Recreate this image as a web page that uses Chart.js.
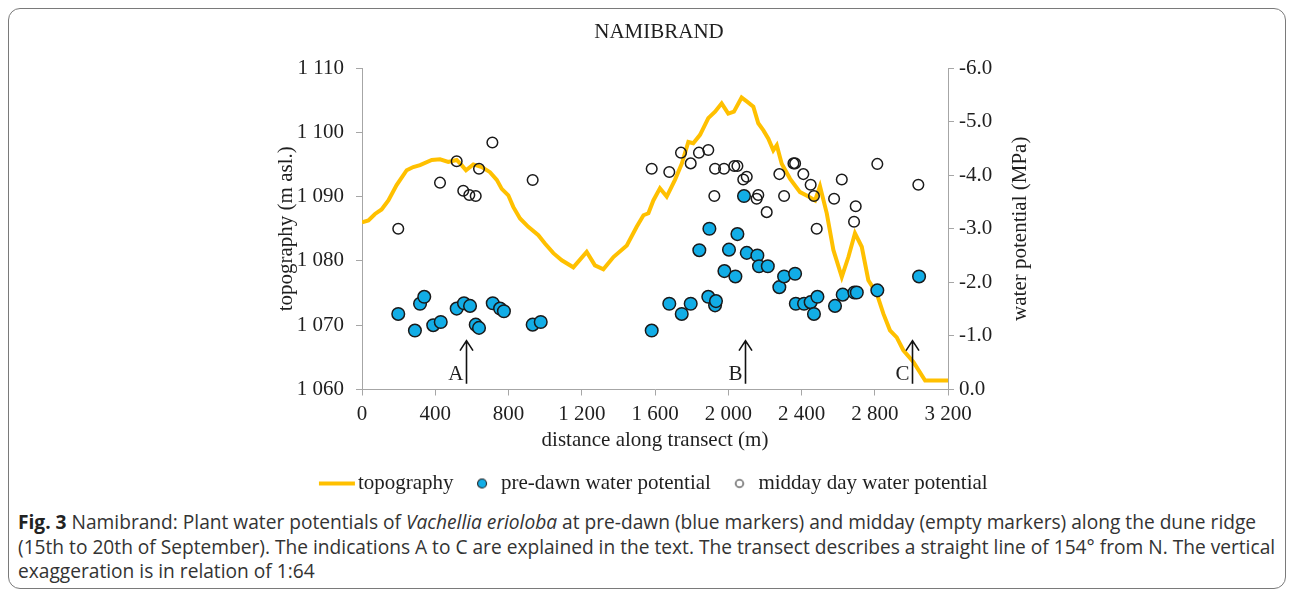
<!DOCTYPE html>
<html lang="en">
<head>
  <meta charset="UTF-8">
  <title>Namibrand</title>
  <script src="https://cdn.jsdelivr.net/npm/chart.js"></script>
  <style>
    body {
      margin: 0;
      background: #fff;
      width: 1292px;
      height: 595px;
      overflow: hidden;
      position: relative;
    }
    .frame {
      position: absolute;
      left: 8px;
      top: 8px;
      width: 1276px;
      height: 579px;
      border: 1px solid #7a7a7a;
      border-radius: 12px;
    }
    #chart {
      position: absolute;
      left: 0;
      top: 0;
    }
    .caption {
      position: absolute;
      left: 18px;
      top: 510px;
      font-family: "Open Sans", sans-serif;
      font-size: 19.5px;
      line-height: 24.5px;
      color: #333;
      white-space: nowrap;
      transform-origin: 0 0;
    }
    .caption b { color: #222; }
  </style>
</head>
<body>
  <div class="frame"></div>
  <canvas id="chart" width="1292" height="504"></canvas>
  <div class="caption" id="caption">
    <div id="line1"><b>Fig. 3</b> Namibrand: Plant water potentials of <i>Vachellia erioloba</i> at pre-dawn (blue markers) and midday (empty markers) along the dune ridge</div>
    <div>(15th to 20th of September). The indications A to C are explained in the text. The transect describes a straight line of 154° from N. The vertical</div>
    <div>exaggeration is in relation of 1:64</div>
  </div>
  <script>
    // distance along transect (m) and elevation (m asl.) of the dune ridge
    const topoX = [0, 35, 71, 107, 144, 189, 244, 280, 317, 381, 426, 471, 517, 544, 568, 608, 654, 699, 736, 763,
      799, 826, 863, 908, 963, 999, 1045, 1091, 1154, 1227, 1272, 1318, 1373, 1446, 1500, 1537, 1564, 1591, 1627, 1664,
      1709, 1746, 1782, 1809, 1846, 1891, 1928, 1964, 2000, 2031, 2073, 2101, 2137, 2164, 2192, 2219, 2246, 2265, 2292, 2337,
      2392, 2438, 2474, 2501, 2538, 2574, 2620, 2656, 2692, 2729, 2765, 2811, 2847, 2883, 2920, 2956, 3011, 3075, 3200];
    const topoY = [1086.0, 1086.3, 1087.3, 1088.0, 1089.4, 1091.8, 1094.1, 1094.6, 1094.9, 1095.7, 1095.8, 1095.4, 1095.7, 1094.9, 1094.1, 1095.0, 1094.6, 1093.8, 1092.6, 1091.2,
      1090.2, 1088.4, 1086.6, 1085.3, 1084.0, 1082.7, 1081.2, 1080.1, 1079.0, 1081.4, 1079.3, 1078.7, 1080.6, 1082.4, 1085.3, 1087.1, 1087.4, 1089.4, 1091.3, 1090.0,
      1092.6, 1095.1, 1098.5, 1098.3, 1099.6, 1102.2, 1103.2, 1104.5, 1102.9, 1103.2, 1105.4, 1104.8, 1104.0, 1101.4, 1100.3, 1099.0, 1097.2, 1098.0, 1095.1, 1092.8,
      1090.7, 1090.0, 1089.4, 1091.6, 1087.4, 1081.7, 1077.5, 1080.6, 1084.3, 1082.2, 1077.0, 1074.9, 1071.8, 1069.2, 1068.1, 1066.1, 1064.3, 1061.4, 1061.4];

    // pre-dawn water potential (MPa)
    const predawnX = [198, 289, 317, 340, 389, 430, 517, 557, 590, 621, 639, 714, 754, 775, 932, 976,
      1582, 1678, 1746, 1795, 1842, 1891, 1897, 1928, 1933, 1979, 2004, 2039, 2050, 2086, 2101, 2159, 2168, 2216,
      2279, 2305, 2365, 2369, 2414, 2450, 2468, 2487, 2583, 2625, 2689, 2702, 2814, 3042];
    const predawnY = [-1.41, -1.10, -1.60, -1.73, -1.20, -1.26, -1.51, -1.61, -1.56, -1.21, -1.15, -1.61, -1.51, -1.46, -1.21, -1.26,
      -1.10, -1.60, -1.41, -1.60, -2.60, -1.73, -3.00, -1.57, -1.65, -2.21, -2.61, -2.11, -2.90, -3.61, -2.55, -2.50, -2.30, -2.30,
      -1.91, -2.11, -2.16, -1.60, -1.60, -1.63, -1.41, -1.73, -1.56, -1.77, -1.81, -1.81, -1.85, -2.11];

    // midday water potential (MPa)
    const middayX = [198, 426, 517, 553, 586, 621, 639, 712, 932,
      1582, 1678, 1742, 1795, 1840, 1891, 1924, 1928, 1977, 2033, 2050, 2082, 2101, 2155, 2164, 2210,
      2279, 2305, 2356, 2365, 2410, 2450, 2468, 2483, 2578, 2620, 2687, 2696, 2814, 3038];
    const middayY = [-3.00, -3.86, -4.26, -3.71, -3.63, -3.61, -4.12, -4.61, -3.91,
      -4.12, -4.06, -4.42, -4.22, -4.42, -4.47, -3.61, -4.12, -4.12, -4.17, -4.17, -3.92, -3.97, -3.56, -3.63, -3.31,
      -4.02, -3.61, -4.22, -4.22, -4.02, -3.82, -3.61, -3.00, -3.56, -3.92, -3.13, -3.42, -4.21, -3.82];

    const distTicks = [0, 400, 800, 1200, 1600, 2000, 2400, 2800, 3200];
    const elevTicks = [1060, 1070, 1080, 1090, 1100, 1110];
    const wpTicks = [0, -1, -2, -3, -4, -5, -6];

    // positions of the A, B, C indications along the transect
    const markNames = ['A', 'B', 'C'];
    const markAt = [568, 2092, 3004];

    const serif = 'Liberation Serif, Times New Roman, serif';
    const ink = '#1f1f1f';
    const axisGrey = '#a6a6a6';
    const gold = '#FFC000';
    const blue = '#12ADE6';

    function spaced(v) {
      if (Math.abs(v) < 1000) return String(v);
      return Math.floor(v / 1000) + ' ' + String(v % 1000).padStart(3, '0');
    }

    function pts(xs, ys) {
      return xs.map((x, i) => ({ x: x, y: ys[i] }));
    }

    // small pictures for the legend keys
    function legendLine() {
      const c = document.createElement('canvas');
      c.width = 72; c.height = 6;
      const g = c.getContext('2d');
      g.fillStyle = gold;
      g.fillRect(16, 1, 36, 4);
      return c;
    }
    function legendDot(fill) {
      const c = document.createElement('canvas');
      c.width = 12; c.height = 12;
      const g = c.getContext('2d');
      g.beginPath();
      g.arc(6, 6, fill ? 4.5 : 3.8, 0, Math.PI * 2);
      g.fillStyle = fill || '#fff';
      g.fill();
      g.lineWidth = 1.1;
      g.strokeStyle = '#222';
      g.stroke();
      return c;
    }
    const legendPics = [legendLine(), legendDot(blue), legendDot(null)];

    const extras = {
      id: 'extras',
      afterDatasetsDraw(chart) {
        const ctx = chart.ctx;
        const xs = chart.scales.x;
        const ys = chart.scales.y;
        const y2 = chart.scales.y2;
        ctx.save();
        ctx.strokeStyle = '#111';
        ctx.fillStyle = ink;
        ctx.lineWidth = 1.6;
        ctx.font = '21px ' + serif;
        ctx.textAlign = 'right';
        ctx.textBaseline = 'alphabetic';
        markAt.forEach((v, i) => {
          const x = Math.round(xs.getPixelForValue(v)) + 0.5;
          const yb = ys.getPixelForValue(1060.9);
          const yt = ys.getPixelForValue(1067.6);
          ctx.beginPath();
          ctx.moveTo(x, yb);
          ctx.lineTo(x, yt);
          ctx.moveTo(x - 6.5, yt + 10);
          ctx.lineTo(x, yt);
          ctx.lineTo(x + 6.5, yt + 10);
          ctx.stroke();
          ctx.fillText(markNames[i], x - 3, ys.getPixelForValue(1061.4));
        });
        ctx.restore();

        // right axis title reads bottom to top, like the left one
        ctx.save();
        ctx.fillStyle = ink;
        ctx.font = '21px ' + serif;
        ctx.textAlign = 'center';
        ctx.textBaseline = 'middle';
        ctx.translate(y2.left + 72, (chart.chartArea.top + chart.chartArea.bottom) / 2);
        ctx.rotate(-Math.PI / 2);
        ctx.fillText('water potential (MPa)', 0, 0);
        ctx.restore();
      }
    };

    const ctx = document.getElementById('chart').getContext('2d');

    new Chart(ctx, {
      type: 'scatter',
      data: {
        datasets: [{
          type: 'line',
          label: 'topography',
          data: pts(topoX, topoY),
          yAxisID: 'y',
          borderColor: gold,
          backgroundColor: gold,
          borderWidth: 4,
          pointRadius: 0,
          tension: 0,
          order: 3
        }, {
          label: 'pre-dawn water potential',
          data: pts(predawnX, predawnY),
          yAxisID: 'y2',
          backgroundColor: blue,
          borderColor: '#1a1a1a',
          borderWidth: 1.5,
          pointRadius: 6.3,
          order: 2
        }, {
          label: 'midday day water potential',
          data: pts(middayX, middayY),
          yAxisID: 'y2',
          backgroundColor: 'rgba(255,255,255,0)',
          borderColor: '#1a1a1a',
          borderWidth: 1.5,
          pointRadius: 5.3,
          order: 1
        }]
      },
      options: {
        responsive: false,
        animation: false,
        devicePixelRatio: 1,
        layout: { padding: { left: 270, right: 244, top: 0, bottom: 0 } },
        plugins: {
          title: {
            display: true,
            text: 'NAMIBRAND',
            color: ink,
            font: { family: serif, size: 21, weight: 'normal' },
            padding: { top: 19.4, bottom: 23.4 }
          },
          legend: {
            position: 'bottom',
            labels: {
              color: ink,
              font: { family: serif, size: 21 },
              usePointStyle: true,
              boxWidth: 17,
              boxHeight: 17,
              padding: 20,
              sort: (a, b) => a.datasetIndex - b.datasetIndex,
              generateLabels(chart) {
                const items = Chart.defaults.plugins.legend.labels.generateLabels(chart);
                items.forEach(it => { it.pointStyle = legendPics[it.datasetIndex]; });
                return items;
              }
            }
          },
          tooltip: { enabled: false }
        },
        scales: {
          x: {
            type: 'linear',
            position: 'bottom',
            min: 0,
            max: 3200,
            afterBuildTicks(s) { s.ticks = distTicks.map(v => ({ value: v })); },
            afterFit(s) { s.height = 63.5; },
            ticks: {
              color: ink,
              font: { family: serif, size: 21 },
              padding: 6,
              maxRotation: 0,
              callback: v => spaced(v)
            },
            grid: { drawOnChartArea: false, tickLength: 6, color: axisGrey },
            border: { color: axisGrey },
            title: {
              display: true,
              text: 'distance along transect (m)',
              color: ink,
              font: { family: serif, size: 21 },
              padding: { top: 0, bottom: 0 }
            }
          },
          y: {
            type: 'linear',
            position: 'left',
            min: 1060,
            max: 1110,
            afterBuildTicks(s) { s.ticks = elevTicks.map(v => ({ value: v })); },
            afterFit(s) { s.width = 92; },
            ticks: {
              color: ink,
              font: { family: serif, size: 21 },
              padding: 12,
              callback: v => spaced(v)
            },
            grid: { drawOnChartArea: false, tickLength: 6, color: axisGrey },
            border: { color: axisGrey },
            title: {
              display: true,
              text: 'topography (m asl.)',
              color: ink,
              font: { family: serif, size: 21 },
              padding: { top: 4, bottom: 0 }
            }
          },
          y2: {
            type: 'linear',
            position: 'right',
            min: -6,
            max: 0,
            reverse: true,
            afterBuildTicks(s) { s.ticks = wpTicks.map(v => ({ value: v })); },
            afterFit(s) { s.width = 100; },
            ticks: {
              color: ink,
              font: { family: serif, size: 21 },
              padding: 5,
              callback: v => v.toFixed(1)
            },
            grid: { drawOnChartArea: false, tickLength: 6, color: axisGrey },
            border: { color: axisGrey }
          }
        }
      },
      plugins: [extras]
    });

    // squeeze the caption so the first line spans the frame like the original
    const cap = document.getElementById('caption');
    const w = document.getElementById('line1').scrollWidth;
    cap.style.transform = 'scaleX(' + (1257 / w) + ')';
  </script>
</body>
</html>
